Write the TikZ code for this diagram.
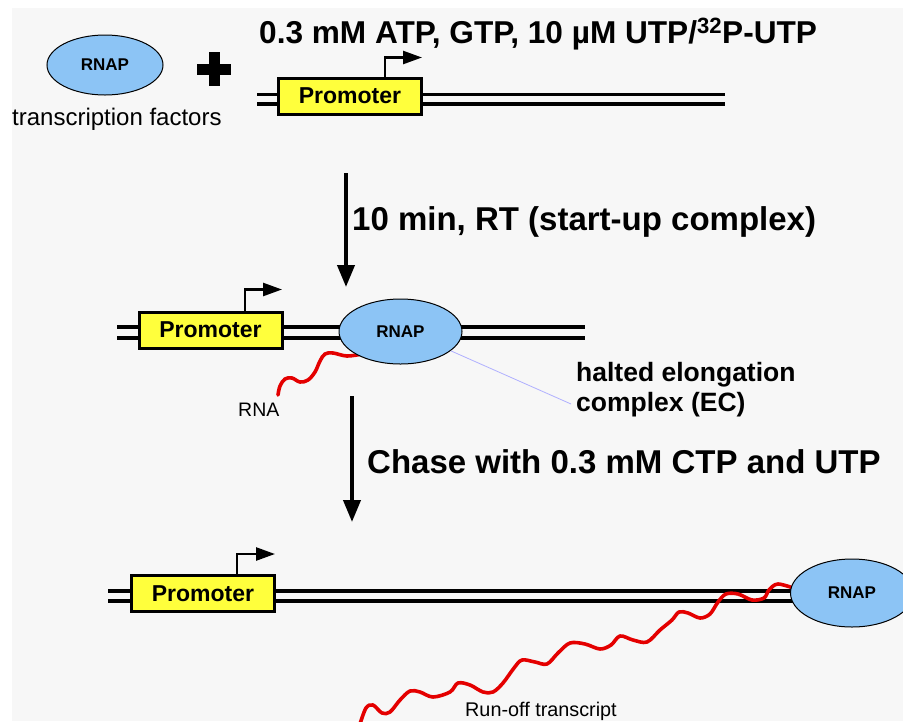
\documentclass[tikz,border=0pt]{standalone}
\usepackage{fontspec}
\setmainfont{Liberation Sans}
\usetikzlibrary{arrows.meta,shapes.geometric}

\definecolor{panel}{RGB}{247,247,247}
\definecolor{rnapblue}{RGB}{140,196,245}
\definecolor{promyellow}{RGB}{255,255,60}
\definecolor{rnared}{RGB}{228,0,0}
\definecolor{callout}{RGB}{176,176,255}

\newcommand{\fsz}[1]{\fontsize{#1}{#1}\selectfont}

\begin{document}
\begin{tikzpicture}[x=1pt,y=-1pt,
  rnap/.style={ellipse, draw=black, line width=1pt, fill=rnapblue, inner sep=0pt,
               font=\fsz{17}\bfseries},
  promoter/.style={rectangle, draw=black, line width=3pt, fill=promyellow,
               minimum width=143pt, minimum height=36pt, inner sep=0pt,
               font=\fsz{23}\bfseries},
  dna/.style={line width=3.5pt},
  tss/.style={line width=2.5pt, -{Triangle[length=19pt,width=13pt]}},
  stepline/.style={line width=4pt, -{Triangle[length=22pt,width=17pt]}},
  rna/.style={rnared, line width=3.6pt, line cap=round, line join=round},
  boldlabel/.style={anchor=base west, inner sep=0pt, font=\fsz{#1}\bfseries},
  plainlabel/.style={anchor=base west, inner sep=0pt, font=\fsz{#1}},
]
% page and grey panel
\useasboundingbox (0,0) rectangle (903,721);
\fill[white] (0,0) rectangle (903,721);
\fill[panel] (12,8) rectangle (903,721);

% ---------- reaction mix ----------
\node[rnap, minimum width=116pt, minimum height=60pt] (rnap0) at (105,65) {RNAP};
\node[plainlabel=24] (tf) at (12,125) {transcription factors};
\draw[line width=11pt] (197,69) -- (231,69);
\draw[line width=11pt] (214,52) -- (214,86);

\draw[dna] (257,94.5) -- (725,94.5);
\draw[dna] (257,104) -- (725,104);
\node[promoter] (p0) at (350,96) {Promoter};
\draw[tss] ([xshift=35pt]p0.north) -- ++(0,-19) -- ++(37,0);

\node[boldlabel=31.6] (mix) at (259,43) {0.3 mM ATP, GTP, 10 µM UTP/\textsuperscript{32}P-UTP};

% ---------- step 1 ----------
\coordinate (s1from) at (346,173);
\coordinate (s1to) at (346,287);
\draw[stepline] (s1from) -- (s1to);
\node[boldlabel=33] (step1) at (352,230) {10 min, RT (start-up complex)};

% ---------- halted elongation complex ----------
\draw[dna] (117,327) -- (585,327);
\draw[dna] (117,338) -- (585,338);
\draw[rna] plot[smooth, tension=0.6] coordinates {(362,354) (347,356) (333,353) (325,354)
  (320,361) (315,372) (308,380) (300,382) (292,378) (285,379) (280,386) (278,395)};
\node[rnap, minimum width=123pt, minimum height=65pt] (ec) at (400.5,331.5) {RNAP};
\node[promoter] (p1) at (210.5,330) {Promoter};
\draw[tss] ([xshift=34.5pt]p1.north) -- ++(0,-21) -- ++(37,0);
\node[plainlabel=19.5] (rnalab) at (238,416) {RNA};

\node[boldlabel=26.5] (ec1) at (576,381) {halted elongation};
\node[boldlabel=26.5] (ec2) at (576,411) {complex (EC)};
\coordinate (ecpoint) at (571,404);
\draw[callout, line width=0.8pt] (ec.-21) -- (ecpoint);

% ---------- step 2 ----------
\coordinate (s2from) at (352,396);
\coordinate (s2to) at (352,522);
\draw[stepline] (s2from) -- (s2to);
\node[boldlabel=33] (step2) at (367,473) {Chase with 0.3 mM CTP and UTP};

% ---------- run-off ----------
\draw[dna] (108,591) -- (800,591);
\draw[dna] (108,601) -- (800,601);
\draw[rna] plot[smooth, tension=0.55] coordinates {(796,589) (778,584) (769,590) (764,598)
  (752,600) (738,594) (726,594) (718,602) (710,614) (700,618) (688,613) (679,612)
  (672,620) (660,630) (647,642) (633,640) (620,636) (611,645) (600,649) (585,644)
  (570,643) (558,653) (547,664) (535,662) (522,660) (514,668) (503,683) (493,692)
  (483,692) (470,685) (458,683) (450,692) (433,697) (420,692) (410,691) (400,700)
  (390,712) (382,713) (373,705) (366,708) (360,724)};
\node[rnap, minimum width=123pt, minimum height=68pt] (rnap2) at (852,593) {RNAP};
\node[promoter] (p2) at (203,593.5) {Promoter};
\draw[tss] ([xshift=34pt]p2.north) -- ++(0,-20) -- ++(38,0);
\node[plainlabel=19.8] (runoff) at (465,716.5) {Run-off transcript};
\end{tikzpicture}
\end{document}
